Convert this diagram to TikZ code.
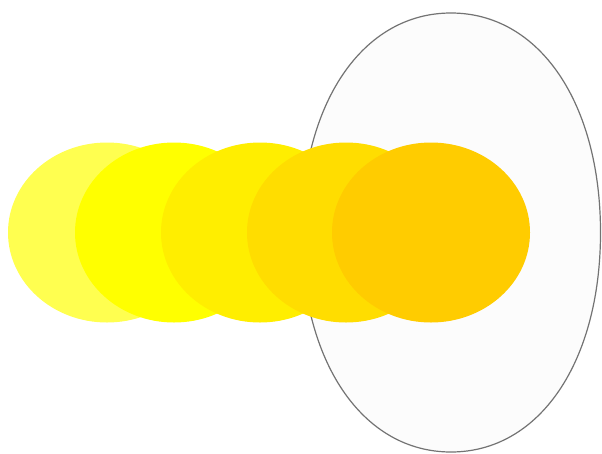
\documentclass[tikz,border=0pt]{standalone}
\begin{document}
\begin{tikzpicture}[x=1pt,y=-1pt,
  disc/.style={draw=none},
  outline/.style={draw=black!55,line width=1.2pt,fill=black!1}]
\useasboundingbox[fill=white] (0,0) rectangle (602,453);
\definecolor{y1}{HTML}{FFFF50}
\definecolor{y2}{HTML}{FFFF00}
\definecolor{y3}{HTML}{FFEE00}
\definecolor{y4}{HTML}{FFDD00}
\definecolor{y5}{HTML}{FFCC00}
\draw[outline] (451,13) .. controls (539.5,13) and (600.5,103) .. (600.5,232.5)
  .. controls (600.5,362) and (539.5,452) .. (451,452)
  .. controls (362.5,452) and (301.5,362) .. (301.5,232.5)
  .. controls (301.5,103) and (362.5,13) .. (451,13) -- cycle;
\fill[disc,y1] (107,232.5) ellipse [x radius=99, y radius=90];
\fill[disc,y2] (174,232.5) ellipse [x radius=99, y radius=90];
\fill[disc,y3] (260,232.5) ellipse [x radius=99, y radius=90];
\fill[disc,y4] (346,232.5) ellipse [x radius=99, y radius=90];
\fill[disc,y5] (431,232.5) ellipse [x radius=99, y radius=90];
\end{tikzpicture}
\end{document}
